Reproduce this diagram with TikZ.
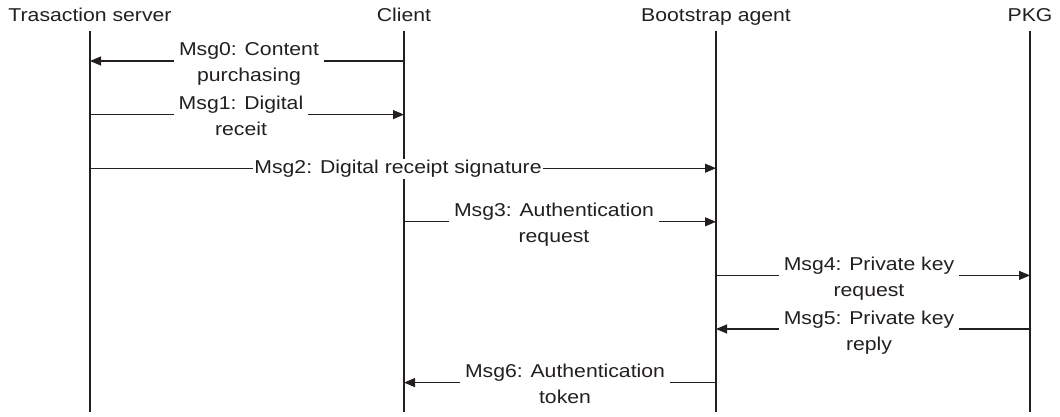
\documentclass[tikz,border=0pt]{standalone}
\usepackage{fontspec}
\setmainfont[FakeStretch=1.14]{Liberation Sans}
\usetikzlibrary{arrows.meta}
\definecolor{ink}{HTML}{231F20}
\begin{document}
\begin{tikzpicture}[x=1pt,y=-1pt,
  every node/.style={font=\fontsize{18.6}{26}\selectfont, text=ink},
  head/.style={anchor=base, inner sep=0pt},
  life/.style={draw=ink, line width=1.1pt},
  msg/.style={draw=ink, line width=1.1pt, -{Triangle[length=11pt,width=9pt]}},
  lbl/.style={anchor=base, fill=white, inner xsep=5pt, inner ysep=1pt},
  lblone/.style={anchor=base, fill=white, inner xsep=1pt, inner ysep=1pt},
]
\useasboundingbox (0,0) rectangle (1060,417);
% headers
\node[head] (ts) at (90,21.7) {Trasaction server};
\node[head] (cl) at (404,21.7) {Client};
\node[head] (ba) at (716,21.7) {Bootstrap agent};
\node[head] (pkg) at (1030,21.7) {PKG};
% lifelines
\coordinate (tsT) at (90,31);   \coordinate (tsB) at (90,412);
\coordinate (clT) at (404,31);  \coordinate (clB) at (404,412);
\coordinate (baT) at (716,31);  \coordinate (baB) at (716,412);
\coordinate (pkT) at (1030,31); \coordinate (pkB) at (1030,412);
\draw[life] (tsT) -- (tsB);
\draw[life] (clT) -- (clB);
\draw[life] (baT) -- (baB);
\draw[life] (pkT) -- (pkB);
% message anchor points
\coordinate (c0) at (404,61);    \coordinate (t0) at (90,61);
\coordinate (t1) at (90,114.6);  \coordinate (c1) at (404,114.6);
\coordinate (t2) at (90,168.2);  \coordinate (b2) at (716,168.2);
\coordinate (c3) at (404,221.8); \coordinate (b3) at (716,221.8);
\coordinate (b4) at (716,275.4); \coordinate (p4) at (1030,275.4);
\coordinate (p5) at (1030,329);  \coordinate (b5) at (716,329);
\coordinate (b6) at (716,382.6); \coordinate (c6) at (404,382.6);
% arrows
\draw[msg] (c0) -- (t0);
\draw[msg] (t1) -- (c1);
\draw[msg] (t2) -- (b2);
\draw[msg] (c3) -- (b3);
\draw[msg] (b4) -- (p4);
\draw[msg] (p5) -- (b5);
\draw[msg] (b6) -- (c6);
% labels
\node[lbl] (m0) at (249,56) {\begin{tabular}[t]{@{}c@{}}Msg0: Content\\purchasing\end{tabular}};
\node[lbl] (m1) at (241,109.6) {\begin{tabular}[t]{@{}c@{}}Msg1: Digital\\receit\end{tabular}};
\node[lblone] (m2) at (398,173.7) {Msg2: Digital receipt signature};
\node[lbl] (m3) at (554,216.8) {\begin{tabular}[t]{@{}c@{}}Msg3: Authentication\\request\end{tabular}};
\node[lbl] (m4) at (869,270.4) {\begin{tabular}[t]{@{}c@{}}Msg4: Private key\\request\end{tabular}};
\node[lbl] (m5) at (869,324) {\begin{tabular}[t]{@{}c@{}}Msg5: Private key\\reply\end{tabular}};
\node[lbl] (m6) at (565,377.6) {\begin{tabular}[t]{@{}c@{}}Msg6: Authentication\\token\end{tabular}};
\end{tikzpicture}
\end{document}
